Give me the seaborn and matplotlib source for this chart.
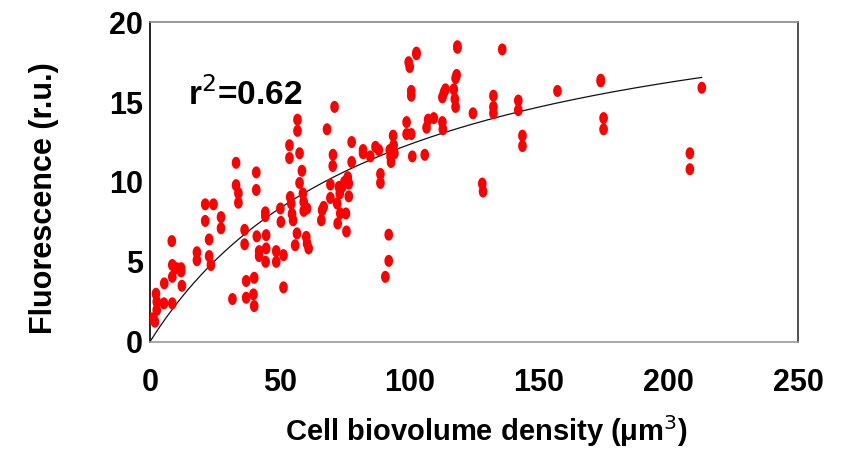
import numpy as np
import pandas as pd
import matplotlib
matplotlib.use("Agg")
import matplotlib.pyplot as plt
from matplotlib.path import Path
import seaborn as sns

# Observations: biovolume density (x) and fluorescence (y)
biovolume = [
    0.3, 1.3, 1.9, 2.6, 2.6, 2.3, 5.4, 5.5, 8.6, 8.6, 8.6, 8.4, 10.3, 12.0, 12.0, 12.3,
    18.1, 18.1, 21.3, 21.3, 22.8, 22.8, 23.5, 24.5, 27.4, 27.4, 31.8, 33.2, 33.2, 34.1,
    34.1, 36.5, 36.5, 37.1, 37.1, 39.9, 40.2, 40.2, 41.0, 41.0, 41.2, 42.1, 42.1, 44.5,
    44.5, 44.8, 44.8, 44.6, 48.7, 48.7, 50.3, 50.5, 51.5, 51.5, 53.8, 53.8, 54.1, 54.5,
    54.8, 55.2, 56.0, 56.7, 56.9, 56.9, 57.7, 58.6, 57.7, 59.0, 59.3, 59.3, 60.6, 60.3,
    60.6, 61.2, 66.4, 67.0, 66.1, 68.3, 69.6, 69.6, 70.6, 70.5, 71.2, 72.2, 73.2, 72.9,
    74.1, 75.0, 76.3, 76.7, 72.4, 73.4, 75.6, 75.8, 76.7, 77.8, 77.8, 82.2, 82.2, 85.0,
    87.0, 88.3, 88.9, 88.9, 90.8, 92.1, 92.1, 92.5, 92.8, 93.0, 93.8, 94.0, 94.3, 99.0,
    99.0, 100.8, 99.8, 100.2, 100.8, 100.8, 101.2, 102.8, 102.8, 106.0, 106.7, 107.3,
    109.5, 112.8, 113.0, 112.8, 113.4, 114.0, 117.2, 117.6, 117.9, 118.3, 117.9, 118.6,
    118.6, 124.6, 128.2, 128.5, 132.5, 132.5, 132.5, 135.9, 142.1, 142.1, 143.7, 143.7,
    157.2, 173.9, 173.9, 175.0, 175.0, 208.3, 208.3, 212.9,
]
fluorescence = [
    1.46, 1.46, 1.25, 1.98, 2.5, 3.0, 2.4, 3.65, 2.4, 4.06, 4.8, 6.3, 4.6, 4.6, 4.4, 3.5,
    5.6, 5.1, 8.6, 7.56, 6.4, 5.36, 4.8, 8.6, 7.8, 7.1, 2.67, 11.2, 9.8, 9.3,
    8.7, 7.0, 6.1, 3.8, 2.75, 2.96, 2.23, 4.0, 10.6, 9.5, 6.6, 5.67, 5.36, 8.1,
    7.86, 6.67, 5.84, 5.0, 5.67, 5.0, 8.34, 7.5, 5.42, 3.4, 12.3, 11.5, 9.06, 8.65,
    8.0, 7.6, 6.04, 6.78, 13.9, 13.2, 11.8, 10.7, 9.94, 9.28, 8.75, 8.19, 8.34, 6.56,
    6.15, 5.84, 8.23, 8.44, 7.6, 13.3, 9.84, 9.0, 11.7, 11.0, 14.7, 8.65, 9.28, 9.69,
    9.69, 10.0, 10.3, 9.9, 7.4, 8.03, 8.03, 6.9, 9.1, 12.5, 11.25, 12.0, 11.8, 11.6,
    12.2, 12.0, 10.5, 9.94, 4.06, 5.06, 6.7, 12.0, 11.6, 11.25, 12.9, 12.3, 11.8, 13.75,
    13.0, 13.0, 17.5, 17.2, 15.7, 15.4, 11.6, 18.1, 18.0, 11.7, 13.4, 13.9,
    14.0, 13.75, 13.3, 15.3, 15.6, 15.8, 15.8, 15.2, 14.7, 16.7, 16.5, 18.5,
    18.4, 14.3, 9.9, 9.4, 15.4, 14.7, 14.3, 18.3, 15.1, 14.5, 12.9, 12.25,
    15.7, 16.4, 16.3, 14.0, 13.3, 11.8, 10.8, 15.9,
]

# Saturating fit  y = vmax * x / (k + x)
FIT_VMAX = 23.7
FIT_K = 92.0
R_SQUARED = "0.62"

x_ticks = [0, 50, 100, 150, 200, 250]
y_ticks = [0, 5, 10, 15, 20]

df = pd.DataFrame({"biovolume": biovolume, "fluorescence": fluorescence})
x_fit = np.linspace(0, max(biovolume), 200)
fit = pd.DataFrame({"biovolume": x_fit,
                    "fluorescence": FIT_VMAX * x_fit / (FIT_K + x_fit)})

sns.set_theme(style="white")
plt.rcParams["font.family"] = ["Liberation Sans", "DejaVu Sans"]
plt.rcParams["text.color"] = "black"
plt.rcParams["axes.labelcolor"] = "black"
plt.rcParams["xtick.color"] = "black"
plt.rcParams["ytick.color"] = "black"

fig = plt.figure(figsize=(8.48, 4.51), dpi=100)
ax = fig.add_axes([0.1769, 0.2424, 0.7641, 0.7082])

# tall elliptical marker
t = np.linspace(0, 2 * np.pi, 40)
ellipse = Path(np.column_stack([0.72 * np.cos(t), np.sin(t)]), closed=True)

sns.lineplot(data=fit, x="biovolume", y="fluorescence", ax=ax,
             color="#111111", linewidth=0.9, zorder=2)
sns.scatterplot(data=df, x="biovolume", y="fluorescence", ax=ax,
                marker=ellipse, s=75, color="#ff0000", edgecolor="none",
                linewidth=0, zorder=3)

ax.set_xlim(0, 250)
ax.set_ylim(0, 20)
ax.set_xticks(x_ticks)
ax.set_yticks(y_ticks)
ax.set_xticklabels([str(v) for v in x_ticks], fontsize=22, fontweight="bold")
ax.set_yticklabels([str(v) for v in y_ticks], fontsize=22, fontweight="bold")
ax.tick_params(axis="x", direction="out", length=5, width=1, color="black", pad=14)
ax.tick_params(axis="y", direction="out", length=4, width=1, color="black", pad=1)

for side, col in (("left", "black"), ("right", "#333333"),
                  ("top", "#888888"), ("bottom", "#999999")):
    ax.spines[side].set_visible(True)
    ax.spines[side].set_color(col)
    ax.spines[side].set_linewidth(1.2)

ax.set_xlabel("Cell biovolume density (μm$^3$)", fontsize=21, fontweight="bold",
              va="center")
ax.xaxis.set_label_coords(0.52, -0.28)
ax.set_ylabel("Fluorescence (r.u.)", fontsize=22, fontweight="bold")
ax.yaxis.set_label_coords(-0.14, 0.45)

ax.text(14.5, 14.8, "r$^2$=" + R_SQUARED, fontsize=24, fontweight="bold",
        ha="left", va="baseline")

fig.savefig("out.png", dpi=100)
